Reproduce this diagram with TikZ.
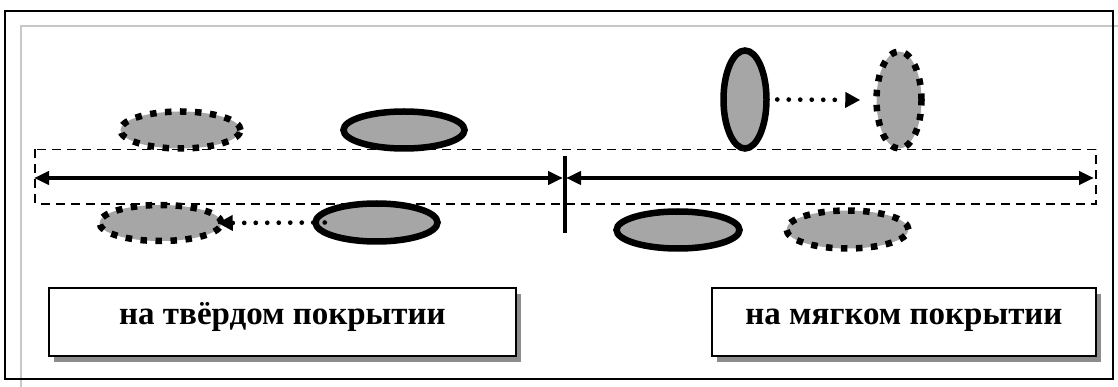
\documentclass[tikz,border=0pt]{standalone}
\usepackage{fontspec}
\setmainfont{Liberation Serif}
\usetikzlibrary{shapes.geometric,arrows.meta,shadows}

\definecolor{shapefill}{HTML}{A6A6A6}
\definecolor{pageline}{HTML}{C8C8C8}
\definecolor{shadowgray}{HTML}{8C8C8C}

\tikzset{
  solidoval/.style={ellipse, inner sep=0pt, draw=black, line width=6.5pt, fill=shapefill},
  dottedoval/.style={ellipse, inner sep=0pt, draw=black, line width=6.5pt, fill=shapefill,
    dash pattern=on 6.5pt off 8.5pt},
  dotarrow/.style={line width=4.7pt, line cap=round, dash pattern=on 0pt off 11.5pt,
    -{Triangle[length=15pt,width=15pt]}},
  track/.style={line width=3.8pt, {Triangle[length=15pt,width=13pt]}-{Triangle[length=15pt,width=13pt]}},
  zone/.style={draw=black, line width=1.3pt, dash pattern=on 9pt off 6pt},
  labelbox/.style={draw=black, line width=2pt, fill=white, inner sep=0pt,
    font=\fontsize{33}{40}\selectfont\bfseries, text height=0.62em, text depth=0.22em,
    drop shadow={shadow xshift=5pt, shadow yshift=-6pt, fill=shadowgray, opacity=1}},
}

\begin{document}
\begin{tikzpicture}[x=1pt, y=-1pt]
  \useasboundingbox (0,0) rectangle (1118,387);

  % page guide lines and outer frame
  \draw[pageline, line width=2pt] (21,387) -- (21,26) -- (1118,26);
  \draw[black, line width=1.6pt] (5,11) rectangle (1113,379);

  % zone of the support line
  \draw[zone] (35,149.5) rectangle (1096,204);

  % support line split by the body axis
  \coordinate (leftend) at (34,178);
  \coordinate (midl) at (563,178);
  \coordinate (midr) at (566,178);
  \coordinate (rightend) at (1094,178);
  \coordinate (axistop) at (564.5,156);
  \coordinate (axisbot) at (564.5,233);
  \draw[track] (leftend) -- (midl);
  \draw[track] (midr) -- (rightend);
  \draw[line width=4pt] (axistop) -- (axisbot);

  % feet on hard ground
  \node[dottedoval, minimum width=120pt, minimum height=37pt] (dtl) at (180.5,130) {};
  \node[solidoval, minimum width=121pt, minimum height=37pt] (stl) at (404,130) {};
  \node[dottedoval, minimum width=122pt, minimum height=36pt] (dbl) at (160.5,223) {};
  \node[solidoval, minimum width=122pt, minimum height=38pt] (sbl) at (376.5,222.5) {};

  % feet on soft ground
  \node[solidoval, minimum width=43pt, minimum height=98pt] (svr) at (745,99.5) {};
  \node[dottedoval, minimum width=45pt, minimum height=97pt] (dvr) at (899,100) {};
  \node[solidoval, minimum width=123pt, minimum height=37pt] (sbr) at (678,230) {};
  \node[dottedoval, minimum width=122pt, minimum height=38pt] (dbr) at (847.5,229.5) {};

  % displacement arrows
  \draw[dotarrow] ([xshift=12.5pt]sbl.west) -- ([xshift=-7pt]dbl.east);
  \draw[dotarrow] ([xshift=7.5pt]svr.east) -- ([xshift=-13pt]dvr.west);

  % captions
  \node[labelbox, minimum width=467pt, minimum height=68pt] (hard) at (282.5,322)
    {на твёрдом покрытии};
  \node[labelbox, minimum width=384pt, minimum height=68pt] (soft) at (904,322)
    {на мягком покрытии};
\end{tikzpicture}
\end{document}
